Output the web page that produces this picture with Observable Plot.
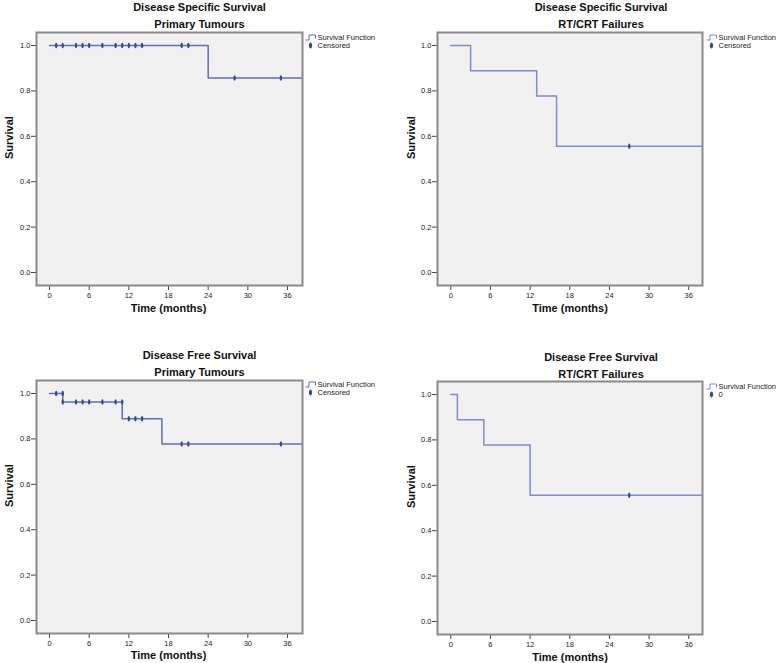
<!DOCTYPE html>
<html><head><meta charset="utf-8">
<script src="https://cdn.jsdelivr.net/npm/d3@7"></script>
<script src="https://cdn.jsdelivr.net/npm/@observablehq/plot@0.6"></script>
<style>
body{margin:0;background:#fff;}
#wrap{position:relative;width:778px;height:663px;overflow:hidden;background:#fff;}
.panel{position:absolute;}
</style></head><body><div id="wrap"></div>
<script>
// ---- shared labels / ticks ----
const xTicks = [0, 6, 12, 18, 24, 30, 36];
const yTicks = [0, 0.2, 0.4, 0.6, 0.8, 1.0];
const xLabel = "Time (months)";
const yLabel = "Survival";
const legendLineLabel = "Survival Function";

// ---- Panel 1: Disease Specific Survival, Primary Tumours ----
const p1Title = ["Disease Specific Survival", "Primary Tumours"];
const p1Time = [0, 24, 39];
const p1Surv = [1, 0.857, 0.857];
const p1CensTime = [1, 2, 4, 5, 6, 8, 10, 11, 12, 13, 14, 20, 21, 28, 35];
const p1CensSurv = [1, 1, 1, 1, 1, 1, 1, 1, 1, 1, 1, 1, 1, 0.857, 0.857];
const p1CensLabel = "Censored";

// ---- Panel 2: Disease Specific Survival, RT/CRT Failures ----
const p2Title = ["Disease Specific Survival", "RT/CRT Failures"];
const p2Time = [0, 3, 13, 16, 16, 39];
const p2Surv = [1, 0.889, 0.778, 0.667, 0.556, 0.556];
const p2CensTime = [27];
const p2CensSurv = [0.556];
const p2CensLabel = "Censored";

// ---- Panel 3: Disease Free Survival, Primary Tumours ----
const p3Title = ["Disease Free Survival", "Primary Tumours"];
const p3Time = [0, 2, 11, 17, 39];
const p3Surv = [1, 0.963, 0.889, 0.778, 0.778];
const p3CensTime = [1, 2, 2, 4, 5, 6, 8, 10, 11, 12, 13, 14, 20, 21, 35];
const p3CensSurv = [1, 1, 0.963, 0.963, 0.963, 0.963, 0.963, 0.963, 0.963, 0.889, 0.889, 0.889, 0.778, 0.778, 0.778];
const p3CensLabel = "Censored";

// ---- Panel 4: Disease Free Survival, RT/CRT Failures ----
const p4Title = ["Disease Free Survival", "RT/CRT Failures"];
const p4Time = [0, 1, 5, 12, 39];
const p4Surv = [1, 0.889, 0.778, 0.556, 0.556];
const p4CensTime = [27];
const p4CensSurv = [0.556];
const p4CensLabel = "0";

// ---- symbols ----
function ellipseSymbol(rx, ry) {
  const k = 0.5523;
  return {draw(ctx) {
    ctx.moveTo(0, -ry);
    ctx.bezierCurveTo(k * rx, -ry, rx, -k * ry, rx, 0);
    ctx.bezierCurveTo(rx, k * ry, k * rx, ry, 0, ry);
    ctx.bezierCurveTo(-k * rx, ry, -rx, k * ry, -rx, 0);
    ctx.bezierCurveTo(-rx, -k * ry, -k * rx, -ry, 0, -ry);
    ctx.closePath();
  }};
}
const stepSymbol = {draw(ctx) {
  ctx.moveTo(-6, 2.5); ctx.lineTo(-2.5, 2.5); ctx.lineTo(-2.5, -2.5);
  ctx.lineTo(4, -2.5); ctx.lineTo(4, 1);
}};

const FONT = "'Liberation Sans', Arial, sans-serif";
const censColor = "#2f4a9c";

function makePanel(cfg) {
  const curve = cfg.time.map((t, i) => ({t, s: cfg.surv[i]}));
  const cens = cfg.censTime.map((t, i) => ({t, s: cfg.censSurv[i]}));
  const plot = Plot.plot({
    width: cfg.w, height: cfg.h,
    marginLeft: cfg.ml, marginRight: cfg.mr, marginTop: cfg.mt, marginBottom: cfg.mb,
    style: {fontFamily: FONT, background: "transparent", overflow: "visible"},
    x: {domain: cfg.xDomain},
    y: {domain: [-0.0573, 1.0573]},
    marks: [
      Plot.frame({fill: "#f1f1f1", stroke: "none"}),
      Plot.axisX({ticks: xTicks, tickFormat: d => String(d), tickSize: 5, tickPadding: 2,
        fontSize: 7.5, label: null, stroke: "#444", fill: "#222"}),
      Plot.axisY({ticks: yTicks, tickFormat: d3.format(".1f"), tickSize: 5, tickPadding: 1,
        fontSize: 7.5, label: null, stroke: "#444", fill: "#222"}),
      Plot.line(curve, {x: "t", y: "s", curve: "step-after", stroke: cfg.lineColor, strokeWidth: 1.5, clip: true}),
      Plot.dot(cens, {x: "t", y: "s", symbol: ellipseSymbol(1.2, 2.7), fill: censColor, stroke: "none"}),
      Plot.frame({stroke: "#8a8a8a", strokeWidth: 2}),
      // titles
      Plot.text([cfg.title[0]], {frameAnchor: "top", dx: cfg.tdx, dy: cfg.tdy1, text: d => d,
        fontSize: 11, fontWeight: "bold", fill: "#111", lineAnchor: "middle"}),
      Plot.text([cfg.title[1]], {frameAnchor: "top", dx: cfg.tdx, dy: cfg.tdy2, text: d => d,
        fontSize: 11, fontWeight: "bold", fill: "#111", lineAnchor: "middle"}),
      // axis labels
      Plot.text([xLabel], {frameAnchor: "bottom", dx: cfg.xldx, dy: cfg.xldy, text: d => d,
        fontSize: 11, fontWeight: "bold", fill: "#111", lineAnchor: "middle"}),
      Plot.text([yLabel], {frameAnchor: "left", dx: cfg.yldx, text: d => d, rotate: -90,
        fontSize: 11, fontWeight: "bold", fill: "#111", lineAnchor: "middle"}),
      // legend
      Plot.dot([0], {frameAnchor: "top-right", dx: cfg.lgx, dy: cfg.lgy1, symbol: stepSymbol,
        fill: "none", stroke: cfg.lineColor, strokeWidth: 1}),
      Plot.text([legendLineLabel], {frameAnchor: "top-right", dx: cfg.lgtx, dy: cfg.lgy1, text: d => d,
        textAnchor: "start", lineAnchor: "middle", fontSize: 7.5, fill: "#222"}),
      Plot.dot([0], {frameAnchor: "top-right", dx: cfg.lgx - 1, dy: cfg.lgy2, symbol: ellipseSymbol(1.6, 3),
        fill: censColor, stroke: "none"}),
      Plot.text([cfg.censLabel], {frameAnchor: "top-right", dx: cfg.lgtx, dy: cfg.lgy2, text: d => d,
        textAnchor: "start", lineAnchor: "middle", fontSize: 7.5, fill: "#222"})
    ]
  });
  const div = document.createElement("div");
  div.className = "panel";
  div.style.left = cfg.left + "px";
  div.style.top = cfg.top + "px";
  div.appendChild(plot);
  document.getElementById("wrap").appendChild(div);
}

makePanel({left: 0, top: 0, w: 389, h: 330, ml: 36, mr: 87, mt: 32, mb: 45,
  xDomain: [-1.97, 38.27], title: p1Title, time: p1Time, surv: p1Surv,
  censTime: p1CensTime, censSurv: p1CensSurv, censLabel: p1CensLabel, lineColor: "#5f6fba",
  tdx: 30, tdy1: -25, tdy2: -8, xldx: -1, xldy: 23, yldx: -27,
  lgx: 9, lgtx: 15, lgy1: 5, lgy2: 13});

makePanel({left: 389, top: 0, w: 389, h: 330, ml: 48, mr: 76, mt: 32, mb: 45,
  xDomain: [-2.01, 38.08], title: p2Title, time: p2Time, surv: p2Surv,
  censTime: p2CensTime, censSurv: p2CensSurv, censLabel: p2CensLabel, lineColor: "#7f8dcf",
  tdx: 31, tdy1: -25, tdy2: -8, xldx: 0, xldy: 23, yldx: -26,
  lgx: 10, lgtx: 16, lgy1: 5, lgy2: 13});

makePanel({left: 0, top: 330, w: 389, h: 333, ml: 36, mr: 87, mt: 50, mb: 30,
  xDomain: [-1.97, 38.27], title: p3Title, time: p3Time, surv: p3Surv,
  censTime: p3CensTime, censSurv: p3CensSurv, censLabel: p3CensLabel, lineColor: "#5f6fba",
  tdx: 30, tdy1: -25, tdy2: -8, xldx: -1, xldy: 22, yldx: -27,
  lgx: 9, lgtx: 15, lgy1: 4, lgy2: 12});

makePanel({left: 389, top: 330, w: 389, h: 333, ml: 48, mr: 76, mt: 51, mb: 29,
  xDomain: [-2.01, 38.08], title: p4Title, time: p4Time, surv: p4Surv,
  censTime: p4CensTime, censSurv: p4CensSurv, censLabel: p4CensLabel, lineColor: "#7f8dcf",
  tdx: 31, tdy1: -24.5, tdy2: -7.5, xldx: 0, xldy: 22.5, yldx: -26,
  lgx: 10, lgtx: 16, lgy1: 5, lgy2: 13});
</script></body></html>
